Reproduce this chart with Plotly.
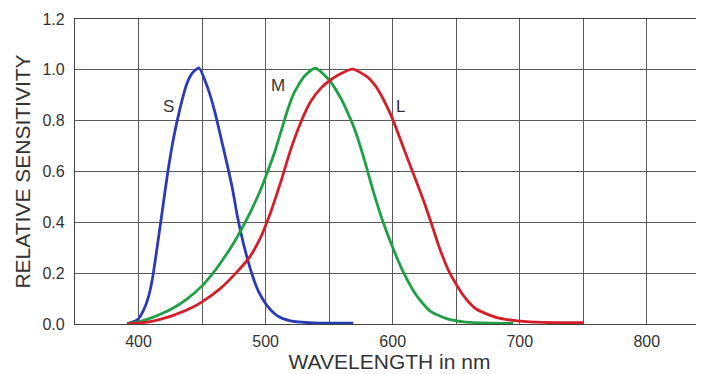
import plotly.graph_objects as go

# S cone (blue)
s_nm = [391, 399, 404, 408, 411, 414, 418, 422.5, 427.5, 433, 438, 442, 447.5, 454.5, 460, 465, 470,
        474, 477, 480.5, 485.5, 489.5, 494.5, 501, 509, 519.5, 538, 554, 569]
s_val = [0, 0.016, 0.055, 0.11, 0.18, 0.28, 0.42, 0.58, 0.73, 0.855, 0.945, 0.985, 1.008, 0.928, 0.836,
         0.73, 0.622, 0.53, 0.445, 0.36, 0.26, 0.193, 0.127, 0.073, 0.033, 0.012, 0.004, 0.003, 0.003]

# M cone (green)
m_nm = [391, 400, 409, 418, 428, 438, 450, 457, 464.5, 475, 480.5, 488, 496, 502, 507, 512, 517.5, 522.5,
        530.5, 539, 550, 559, 562, 570, 577.5, 585, 592.5, 600.5, 608.5, 619, 629.5, 642.5, 656, 677, 695]
m_val = [0, 0.008, 0.022, 0.04, 0.065, 0.098, 0.15, 0.19, 0.24, 0.32, 0.368, 0.44, 0.527, 0.605, 0.675,
         0.755, 0.845, 0.91, 0.975, 1.007, 0.96, 0.89, 0.86, 0.767, 0.65, 0.518, 0.40, 0.295, 0.203, 0.11,
         0.051, 0.021, 0.008, 0.003, 0.002]

# L cone (red)
l_nm = [391, 409, 428, 433, 441, 450, 464.5, 477.5, 487, 496, 504, 512, 520, 528, 535.5, 543.5, 551, 559,
        568.5, 580, 586, 591, 596, 600, 608, 616, 624, 629.5, 637.5, 645, 656, 666, 682, 698, 708, 730, 750]
l_val = [0, 0.009, 0.035, 0.045, 0.062, 0.087, 0.14, 0.205, 0.26, 0.34, 0.44, 0.56, 0.69, 0.797, 0.875,
         0.928, 0.96, 0.985, 1.003, 0.972, 0.94, 0.90, 0.85, 0.806, 0.70, 0.595, 0.49, 0.41, 0.29, 0.2, 0.11,
         0.058, 0.025, 0.012, 0.008, 0.005, 0.005]

labels = ["S", "M", "L"]
label_x = [423.6, 509.6, 605.8]
label_y = [0.854, 0.937, 0.854]

FONT = "Liberation Sans, Arial, sans-serif"
TXT = "#333333"
GRID = "#5a5a5a"

fig = go.Figure()
for xs, ys, col in [(s_nm, s_val, "#2b3bb3"), (m_nm, m_val, "#1fa046"), (l_nm, l_val, "#d21f2a")]:
    fig.add_trace(go.Scatter(x=xs, y=ys, mode="lines",
                             line=dict(color=col, width=2.8, shape="spline", smoothing=0.6),
                             showlegend=False, hoverinfo="skip"))

for t, x, y in zip(labels, label_x, label_y):
    fig.add_annotation(x=x, y=y, text=t, showarrow=False,
                       font=dict(family=FONT, size=17, color=TXT))

# the page body has an 8px margin, so the figure is offset by 8px
fig.update_layout(
    width=696, height=366,
    margin=dict(l=67, r=0, t=11, b=50),
    paper_bgcolor="white", plot_bgcolor="white",
    font=dict(family=FONT, size=16, color=TXT),
    xaxis=dict(range=[350, 845], tick0=0, dtick=100, showgrid=True, gridcolor=GRID, gridwidth=1,
               minor=dict(dtick=50, showgrid=True, gridcolor=GRID, gridwidth=1),
               showline=True, linecolor="#444444", linewidth=1.2, mirror=True,
               ticks="", zeroline=False, ticklabelstandoff=3,
               title=dict(text="WAVELENGTH in nm", font=dict(family=FONT, size=21, color=TXT), standoff=0),
               tickfont=dict(family=FONT, size=16, color=TXT)),
    yaxis=dict(range=[0, 1.2], tick0=0, dtick=0.2, tickformat=".1f", showgrid=True, gridcolor=GRID,
               gridwidth=1, showline=True, linecolor="#444444", linewidth=1.2,
               ticks="", zeroline=False, ticklabelstandoff=6,
               title=dict(text="RELATIVE SENSITIVITY", font=dict(family=FONT, size=21, color=TXT), standoff=6),
               tickfont=dict(family=FONT, size=16, color=TXT)),
)

fig.write_html("out.html")
